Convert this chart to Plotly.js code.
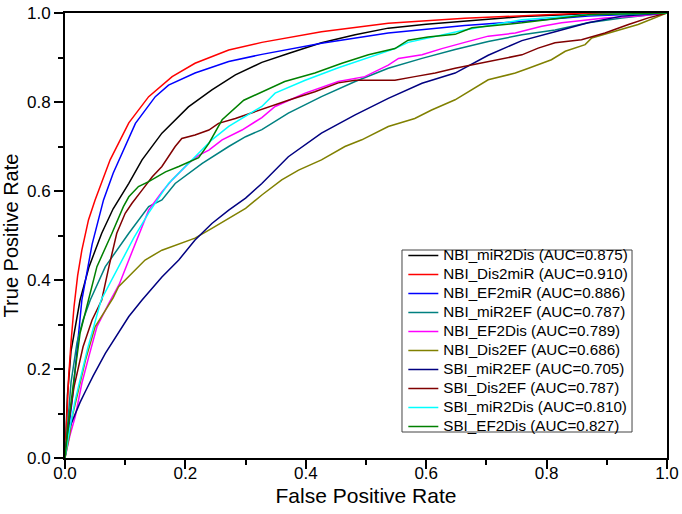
<!DOCTYPE html>
<html>
<head>
<meta charset="utf-8">
<script src="https://cdn.plot.ly/plotly-3.0.1.min.js"></script>
<style>html,body{margin:0;padding:0;background:#fff;}#chart{width:682px;height:514px;}</style>
</head>
<body>
<div id="chart"></div>
<script>
// Series names (legend labels)
const names = [
  "NBI_miR2Dis (AUC=0.875)",
  "NBI_Dis2miR (AUC=0.910)",
  "NBI_EF2miR (AUC=0.886)",
  "NBI_miR2EF (AUC=0.787)",
  "NBI_EF2Dis (AUC=0.789)",
  "NBI_Dis2EF (AUC=0.686)",
  "SBI_miR2EF (AUC=0.705)",
  "SBI_Dis2EF (AUC=0.787)",
  "SBI_miR2Dis (AUC=0.810)",
  "SBI_EF2Dis (AUC=0.827)"
];
const colors = ["#000000","#ff0000","#0000ff","#008080","#ff00ff","#808000","#000080","#800000","#00ffff","#008000"];

// NBI_miR2Dis
const fpr_NBI_miR2Dis = [0,0.004,0.01,0.02,0.025,0.04,0.061,0.08,0.106,0.128,0.161,0.205,0.244,0.283,0.327,0.371,0.426,0.482,0.537,0.6,0.664,0.759,0.85,0.93,1.0];
const tpr_NBI_miR2Dis = [0,0.14,0.24,0.32,0.355,0.43,0.505,0.56,0.617,0.67,0.73,0.789,0.827,0.861,0.889,0.909,0.933,0.951,0.966,0.975,0.982,0.992,0.997,1.0,1.0];
// NBI_Dis2miR
const fpr_NBI_Dis2miR = [0,0.003,0.006,0.01,0.015,0.021,0.028,0.039,0.05,0.075,0.106,0.139,0.178,0.216,0.272,0.327,0.426,0.537,0.664,0.78,0.87,1.0];
const tpr_NBI_Dis2miR = [0,0.1,0.18,0.26,0.34,0.41,0.467,0.535,0.58,0.67,0.753,0.812,0.857,0.887,0.917,0.934,0.958,0.977,0.988,0.995,1.0,1.0];
// NBI_EF2miR
const fpr_NBI_EF2miR = [0,0.005,0.012,0.02,0.028,0.045,0.064,0.08,0.097,0.117,0.15,0.172,0.216,0.272,0.327,0.426,0.537,0.664,0.759,0.869,1.0];
const tpr_NBI_EF2miR = [0,0.06,0.13,0.243,0.355,0.48,0.58,0.64,0.692,0.752,0.812,0.838,0.865,0.891,0.907,0.932,0.955,0.972,0.981,0.993,1.0];
// NBI_miR2EF
const fpr_NBI_miR2EF = [0,0.005,0.01,0.02,0.03,0.042,0.067,0.106,0.139,0.161,0.183,0.228,0.272,0.3,0.327,0.371,0.426,0.482,0.537,0.593,0.648,0.703,0.759,0.814,0.869,0.925,1.0];
const tpr_NBI_miR2EF = [0,0.09,0.17,0.26,0.31,0.355,0.43,0.505,0.565,0.58,0.617,0.662,0.7,0.722,0.738,0.775,0.812,0.846,0.876,0.898,0.918,0.936,0.951,0.962,0.978,0.989,1.0];
// NBI_EF2Dis
const fpr_NBI_EF2Dis = [0,0.008,0.017,0.028,0.04,0.053,0.073,0.09,0.106,0.128,0.139,0.161,0.178,0.205,0.222,0.239,0.261,0.294,0.327,0.349,0.399,0.454,0.498,0.537,0.554,0.593,0.626,0.664,0.703,0.748,0.792,0.825,0.897,0.952,1.0];
const tpr_NBI_EF2Dis = [0,0.05,0.093,0.168,0.23,0.295,0.348,0.39,0.445,0.52,0.557,0.598,0.625,0.662,0.68,0.692,0.715,0.737,0.765,0.79,0.82,0.846,0.857,0.883,0.898,0.906,0.92,0.934,0.948,0.955,0.97,0.978,0.989,0.993,1.0];
// NBI_Dis2EF
const fpr_NBI_Dis2EF = [0,0.008,0.012,0.025,0.034,0.05,0.08,0.089,0.108,0.133,0.161,0.189,0.216,0.244,0.272,0.3,0.327,0.36,0.388,0.426,0.465,0.493,0.537,0.581,0.609,0.648,0.703,0.748,0.77,0.808,0.831,0.864,0.875,0.902,0.952,1.0];
const tpr_NBI_Dis2EF = [0,0.055,0.093,0.172,0.22,0.295,0.36,0.385,0.41,0.445,0.467,0.48,0.494,0.516,0.539,0.561,0.591,0.625,0.647,0.67,0.7,0.715,0.745,0.763,0.782,0.805,0.85,0.865,0.876,0.895,0.914,0.929,0.944,0.955,0.974,1.0];
// SBI_miR2EF
const fpr_SBI_miR2EF = [0,0.003,0.008,0.017,0.025,0.034,0.047,0.067,0.084,0.106,0.128,0.161,0.189,0.216,0.244,0.272,0.3,0.327,0.371,0.426,0.482,0.537,0.593,0.648,0.703,0.759,0.814,0.869,0.925,1.0];
const tpr_SBI_miR2EF = [0,0.04,0.07,0.1,0.125,0.15,0.185,0.235,0.27,0.318,0.355,0.407,0.445,0.49,0.527,0.557,0.584,0.617,0.677,0.73,0.771,0.808,0.842,0.865,0.905,0.938,0.958,0.978,0.993,1.0];
// SBI_Dis2EF
const fpr_SBI_Dis2EF = [0,0.006,0.015,0.03,0.045,0.061,0.073,0.086,0.1,0.111,0.128,0.145,0.161,0.172,0.183,0.194,0.216,0.239,0.255,0.283,0.327,0.371,0.415,0.454,0.482,0.548,0.581,0.615,0.648,0.703,0.759,0.786,0.814,0.858,0.897,0.936,0.969,1.0];
const tpr_SBI_Dis2EF = [0,0.08,0.16,0.25,0.31,0.355,0.43,0.505,0.55,0.572,0.602,0.632,0.655,0.677,0.7,0.718,0.726,0.737,0.752,0.763,0.784,0.804,0.823,0.843,0.849,0.849,0.857,0.865,0.876,0.891,0.906,0.921,0.933,0.94,0.955,0.974,0.989,1.0];
// SBI_miR2Dis
const fpr_SBI_miR2Dis = [0,0.007,0.017,0.037,0.06,0.089,0.114,0.139,0.172,0.205,0.244,0.272,0.3,0.327,0.349,0.399,0.454,0.509,0.548,0.57,0.664,0.759,0.869,1.0];
const tpr_SBI_miR2Dis = [0,0.06,0.13,0.243,0.355,0.43,0.494,0.551,0.617,0.662,0.715,0.745,0.767,0.79,0.82,0.849,0.877,0.902,0.92,0.934,0.962,0.985,0.996,1.0];
// SBI_EF2Dis
const fpr_SBI_EF2Dis = [0,0.006,0.014,0.025,0.039,0.053,0.078,0.097,0.106,0.122,0.139,0.167,0.189,0.208,0.222,0.239,0.261,0.297,0.327,0.365,0.415,0.46,0.504,0.548,0.57,0.603,0.648,0.676,0.759,0.869,1.0];
const tpr_SBI_EF2Dis = [0,0.08,0.168,0.28,0.355,0.43,0.505,0.565,0.587,0.61,0.621,0.643,0.655,0.666,0.675,0.707,0.76,0.804,0.823,0.846,0.865,0.887,0.906,0.92,0.939,0.946,0.952,0.967,0.978,0.996,1.0];

const xs = [fpr_NBI_miR2Dis,fpr_NBI_Dis2miR,fpr_NBI_EF2miR,fpr_NBI_miR2EF,fpr_NBI_EF2Dis,fpr_NBI_Dis2EF,fpr_SBI_miR2EF,fpr_SBI_Dis2EF,fpr_SBI_miR2Dis,fpr_SBI_EF2Dis];
const ys = [tpr_NBI_miR2Dis,tpr_NBI_Dis2miR,tpr_NBI_EF2miR,tpr_NBI_miR2EF,tpr_NBI_EF2Dis,tpr_NBI_Dis2EF,tpr_SBI_miR2EF,tpr_SBI_Dis2EF,tpr_SBI_miR2Dis,tpr_SBI_EF2Dis];

// Axis tick labels
const tickVals = [0,0.2,0.4,0.6,0.8,1.0];
const tickText = ["0.0","0.2","0.4","0.6","0.8","1.0"];
const minorVals = [0.1,0.3,0.5,0.7,0.9];

const fontFam = "Arial, 'Liberation Sans', sans-serif";
const traces = names.map((n,i)=>({
  x: xs[i], y: ys[i],
  name: "<span style=\"font-family:Arial, 'Liberation Sans', sans-serif;font-size:15.2px\">" + n + "</span>",
  type: "scatter", mode: "lines",
  line: {color: colors[i], width: 1.5}
}));

const axisCommon = {
  range: [0,1], tickmode: "array", tickvals: tickVals, ticktext: tickText,
  ticks: "outside", ticklen: 9, tickwidth: 2, tickcolor: "#000",
  showline: true, linewidth: 2, linecolor: "#000", mirror: true,
  showgrid: false, zeroline: false, fixedrange: true,
  tickfont: {family: fontFam, size: 17, color: "#000"},
  minor: {tickvals: minorVals, ticks: "outside", ticklen: 5, tickwidth: 2, tickcolor: "#000", showgrid: false}
};

const layout = {
  width: 682, height: 514,
  margin: {l: 65, r: 15, t: 13, b: 56},
  paper_bgcolor: "#fff", plot_bgcolor: "#fff",
  font: {family: fontFam, color: "#000"},
  showlegend: true,
  xaxis: Object.assign({}, axisCommon, {
    ticklabelstandoff: -10,
    title: {text: "False Positive Rate", font: {family: fontFam, size: 21, color: "#000"}, standoff: 6}
  }),
  yaxis: Object.assign({}, axisCommon, {
    title: {text: "True Positive Rate", font: {family: fontFam, size: 20, color: "#000"}, standoff: 4}
  }),
  legend: {
    x: 0.562, y: 0.263, xanchor: "left", yanchor: "middle",
    bgcolor: "rgba(255,255,255,0)", borderwidth: 0,
    font: {family: fontFam, size: 11.8, color: "#000"},
    tracegroupgap: 0, itemwidth: 30
  },
  shapes: [{
    type: "rect", xref: "paper", yref: "paper",
    x0: 0.5598, x1: 0.9419, y0: 0.0584, y1: 0.4674,
    line: {color: "#444", width: 1}, fillcolor: "rgba(0,0,0,0)", layer: "below"
  }]
};

Plotly.newPlot("chart", traces, layout, {staticPlot: true, displayModeBar: false});
</script>
</body>
</html>
